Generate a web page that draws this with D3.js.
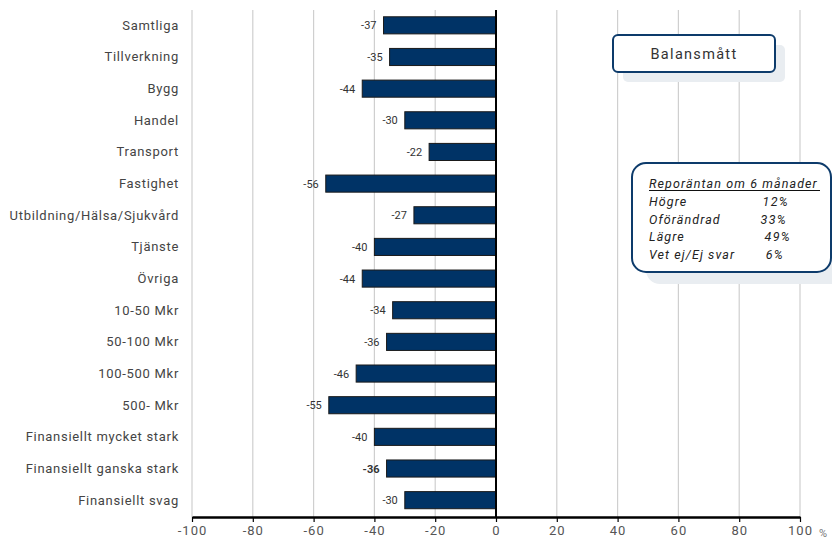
<!DOCTYPE html>
<html><head><meta charset="utf-8">
<script src="https://cdn.jsdelivr.net/npm/d3@7"></script>
<style>body{margin:0;background:#fff;}svg{display:block;font-family:Roboto,"Noto Sans",sans-serif;}</style>
</head><body>
<svg id="c" width="832" height="540"></svg>
<script>
const categories = ["Samtliga","Tillverkning","Bygg","Handel","Transport","Fastighet","Utbildning/Hälsa/Sjukvård","Tjänste","Övriga","10-50 Mkr","50-100 Mkr","100-500 Mkr","500- Mkr","Finansiellt mycket stark","Finansiellt ganska stark","Finansiellt svag"];
const values = [-37,-35,-44,-30,-22,-56,-27,-40,-44,-34,-36,-46,-55,-40,-36,-30];
const tickValues = [-100,-80,-60,-40,-20,0,20,40,60,80,100];
const boxTitle = "Balansmått";
const repoTitle = "Reporäntan om 6 månader";
const repoLabels = ["Högre","Oförändrad","Lägre","Vet ej/Ej svar"];
const repoValues = ["12%","33%","49%","6%"];

const svg = d3.select("#c");
const x = d3.scaleLinear().domain([-100,100]).range([192,800]);
const y = d3.scaleBand().domain(categories).range([9.5,516]).paddingInner(0.46).paddingOuter(0.23);
const plotTop = 10, axisY = 517;

// gridlines
svg.append("g").selectAll("line").data(tickValues.filter(d=>d!==0)).join("line")
  .attr("x1",d=>x(d)).attr("x2",d=>x(d)).attr("y1",plotTop).attr("y2",axisY)
  .attr("stroke","#cfcfcf").attr("stroke-width",1.2);

// Balansmått box
const bx=613, by=35, bw=162, bh=37;
svg.append("rect").attr("x",bx+10).attr("y",by+10).attr("width",bw).attr("height",bh).attr("rx",5).attr("fill","#e9edf1");
svg.append("rect").attr("x",bx).attr("y",by).attr("width",bw).attr("height",bh).attr("rx",5).attr("fill","#fff").attr("stroke","#0d3b6b").attr("stroke-width",2);
svg.append("text").attr("x",bx+bw/2).attr("y",by+bh/2+5).attr("text-anchor","middle").attr("font-size",14.5).attr("fill","#333").attr("letter-spacing",1.3).text(boxTitle);

// Repo box
const rx=632, ry=163, rw=212, rh=109;
svg.append("rect").attr("x",rx+14).attr("y",ry+12).attr("width",rw).attr("height",rh).attr("rx",14).attr("fill","#e9edf1");
svg.append("rect").attr("x",rx).attr("y",ry).attr("width",rw-13).attr("height",rh).attr("rx",14).attr("fill","#fff").attr("stroke","#0d3b6b").attr("stroke-width",2);
svg.append("text").attr("x",649).attr("y",188).attr("font-size",12.5).attr("font-style","italic").attr("fill","#222").attr("letter-spacing",1.1).text(repoTitle);
svg.append("line").attr("x1",649).attr("x2",820).attr("y1",190.5).attr("y2",190.5).attr("stroke","#111").attr("stroke-width",1.2);
svg.append("g").selectAll("text").data(repoLabels).join("text")
  .attr("x",649).attr("y",(d,i)=>206+i*17.6).attr("font-size",12.5).attr("font-style","italic").attr("fill","#222").attr("letter-spacing",1.1).text(d=>d);
svg.append("g").selectAll("text").data(repoValues).join("text")
  .attr("x",(d,i)=>[789,787,791,784][i]).attr("y",(d,i)=>206+i*17.6).attr("text-anchor","end").attr("font-size",12.5).attr("font-style","italic").attr("fill","#222").attr("letter-spacing",1.3).text(d=>d);

// bars
svg.append("g").selectAll("rect").data(values).join("rect")
  .attr("x",d=>x(d)).attr("y",(d,i)=>y(categories[i]))
  .attr("width",d=>x(0)-x(d)).attr("height",y.bandwidth())
  .attr("fill","#003366").attr("stroke","#1a1a1a").attr("stroke-width",1);

// value labels
svg.append("g").selectAll("text").data(values).join("text")
  .attr("x",d=>x(d)-7).attr("y",(d,i)=>y(categories[i])+y.bandwidth()/2+4)
  .attr("text-anchor","end").attr("font-size",11).attr("fill","#333")
  .attr("font-weight",(d,i)=>i===14?"bold":"normal").text(d=>String(d));

// category labels
svg.append("g").selectAll("text").data(categories).join("text")
  .attr("x",179).attr("y",d=>y(d)+y.bandwidth()/2+4.5)
  .attr("text-anchor","end").attr("font-size",13).attr("fill","#444").attr("letter-spacing",0.7).text(d=>d);

// zero line
svg.append("line").attr("x1",x(0)).attr("x2",x(0)).attr("y1",plotTop).attr("y2",axisY).attr("stroke","#000").attr("stroke-width",2);

// x axis
const ax = svg.append("g").attr("transform",`translate(0,${axisY})`)
  .call(d3.axisBottom(x).tickValues(tickValues).tickFormat(d=>String(d)).tickSize(5).tickSizeOuter(0).tickPadding(4));
ax.select(".domain").attr("stroke","#000").attr("stroke-width",2.5);
ax.selectAll(".tick line").attr("stroke","#000").attr("stroke-width",1.2);
ax.selectAll(".tick text").attr("font-size",13).attr("fill","#555").attr("font-family","Roboto,sans-serif").attr("letter-spacing",1);
svg.append("text").attr("x",819).attr("y",537).attr("font-size",11).attr("fill","#777").text("%");
</script>
</body></html>
